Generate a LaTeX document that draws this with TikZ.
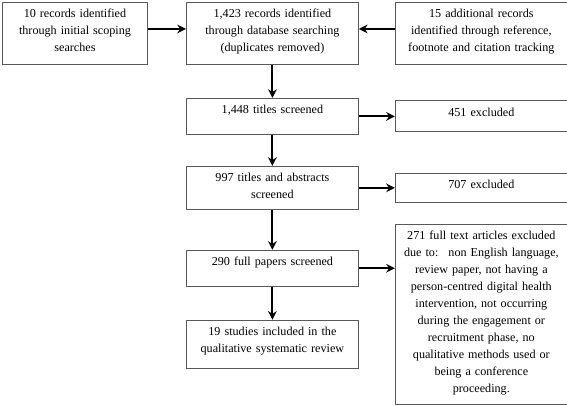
\documentclass[tikz,border=0pt]{standalone}
\usepackage{fontspec}
\setmainfont{Liberation Serif}
\usetikzlibrary{positioning,arrows.meta}
\tikzset{
flow/.style={
    >={Stealth[length=6.5pt,width=6.5pt]},
    font=\fontsize{9.1}{12.75}\selectfont
},
box/.style={
    rectangle,
    draw=black!65,
    line width=0.7pt,
    align=center,
    text width=125pt,
    inner xsep=2pt,
    inner ysep=4.5pt,
    text height=7pt
},
narrow/.style={
    text width=104.75pt
},
leads/.style={
    ->,
    line width=1.5pt
}}

\begin{document}
\begin{tikzpicture}[flow]
\useasboundingbox (0,0) rectangle (425.25pt,-303.75pt);

\node[box,narrow,text depth=30.5pt,anchor=north west] (scoping) at (1.5pt,-1.5pt)
    {10 records identified\\through initial scoping\\searches};
\node[box,text depth=30.5pt]  (database)  [right=28.5pt of scoping]
    {1,423 records identified\\through database searching\\(duplicates removed)};
\node[box,text depth=30.5pt]  (tracking)  [right=27pt of database]
    {15 additional records\\identified through reference,\\footnote and citation tracking};
\node[box,text depth=11pt]    (titles)    [below=24.75pt of database]
    {1,448 titles screened};
\node[box,text depth=7.25pt]  (titlexcl)  [right=27pt of titles]
    {451 excluded};
\node[box,text depth=16.25pt] (abstracts) [below=23.25pt of titles]
    {997 titles and abstracts\\screened};
\node[box,text depth=5.75pt]  (absexcl)   [right=27pt of abstracts]
    {707 excluded};
\node[box,text depth=11pt]    (fulltext)  [below=30pt of abstracts]
    {290 full papers screened};
\node[box,text depth=20pt]    (included)  [below=24.75pt of fulltext]
    {19 studies included in the\\qualitative systematic review};
\node[box,text depth=119pt]   (ftexcl)    [below=15.75pt of absexcl]
    {271 full text articles excluded\\due to:~ non English language,\\review paper, not having a\\person-centred digital health\\intervention, not occurring\\during the engagement or\\recruitment phase, no\\qualitative methods used or\\being a conference\\proceeding.};

\draw[leads] ([yshift=3.4pt]scoping.east)  -- ([yshift=3.4pt]database.west);
\draw[leads] ([yshift=3.4pt]tracking.west) -- ([yshift=3.4pt]database.east);

\draw[leads] (database)  -- (titles);
\draw[leads] (titles)    -- (abstracts);
\draw[leads] (abstracts) -- (fulltext);
\draw[leads] (fulltext)  -- (included);

\draw[leads] (titles)    -- (titlexcl);
\draw[leads] (abstracts) -- (absexcl);
\draw[leads] (fulltext)  -- (fulltext -| ftexcl.west);
\end{tikzpicture}
\end{document}
